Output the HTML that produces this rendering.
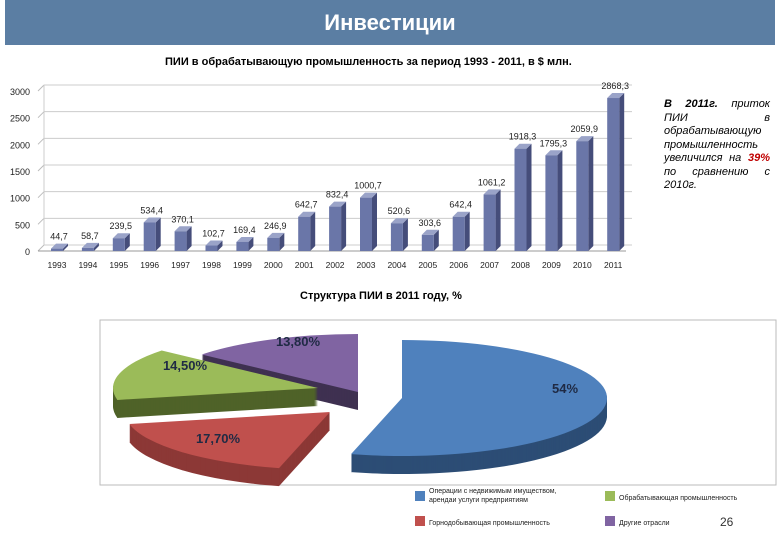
<!DOCTYPE html>
<html><head><meta charset="utf-8"><style>
body{margin:0;width:780px;height:540px;background:#fff;font-family:"Liberation Sans",sans-serif;overflow:hidden;position:relative}
#hdr{position:absolute;left:5px;top:0;width:770px;height:45px;background:#5b7ea3;color:#fff;font-weight:bold;font-size:22px;text-align:center;line-height:45px}
.t{position:absolute;font-size:11px;font-weight:bold;color:#000}
#note{position:absolute;left:664px;top:98px;width:106px;font-size:11px;font-style:italic;text-align:justify;line-height:13.5px}
</style></head><body>
<div id="hdr">Инвестиции</div>
<div class="t" style="left:165px;top:56px">ПИИ в обрабатывающую промышленность за период 1993 - 2011, в $ млн.</div>
<div id="note"><b>В 2011г.</b> приток ПИИ в обрабатывающую промышленность увеличился на <b style="color:#c00000">39%</b> по сравнению с 2010г.</div>
<div class="t" style="left:300px;top:290px">Структура ПИИ в 2011 году, %</div>
<svg id="svg" width="780" height="540" style="position:absolute;left:0;top:0"></svg>
<script>
const years=["1993","1994","1995","1996","1997","1998","1999","2000","2001","2002","2003","2004","2005","2006","2007","2008","2009","2010","2011"];
const values=[44.7,58.7,239.5,534.4,370.1,102.7,169.4,246.9,642.7,832.4,1000.7,520.6,303.6,642.4,1061.2,1918.3,1795.3,2059.9,2868.3];
const valueLabels=["44,7","58,7","239,5","534,4","370,1","102,7","169,4","246,9","642,7","832,4","1000,7","520,6","303,6","642,4","1061,2","1918,3","1795,3","2059,9","2868,3"];
const yTicks=[0,500,1000,1500,2000,2500,3000];
const pieLabels=["54%","17,70%","14,50%","13,80%"];
const pieValues=[54,17.7,14.5,13.8];
const legendLabels=["Операции с недвижимым имуществом, арендаи услуги предприятиям","Горнодобывающая промышленность","Обрабатывающая промышленность","Другие отрасли"];

const NS="http://www.w3.org/2000/svg",svg=document.getElementById('svg');
function mk(t,a,p){const e=document.createElementNS(NS,t);for(const k in a)e.setAttribute(k,a[k]);(p||svg).appendChild(e);return e;}
const y=v=>251-v*(160/3000), x=i=>57+i*30.9;
yTicks.forEach(v=>{
 const g=mk('line',{x1:38,y1:y(v),x2:44,y2:y(v)-6,stroke:'#bbb'});
 const l=mk('line',{x1:44,y1:y(v)-6,x2:632,y2:y(v)-6,stroke:'#ccc'});
 const t=mk('text',{x:30,y:y(v)+4,'text-anchor':'end','font-size':9,fill:'#222'});t.textContent=v;
});
mk('line',{x1:38,y1:251,x2:626,y2:251,stroke:'#999'});
mk('line',{x1:44,y1:y(3000)-6,x2:44,y2:245,stroke:'#ccc'});
values.forEach((v,i)=>{
 const cx=x(i),w=12,d=5,top=y(v),bx=cx-w/2;
 const s=mk('polygon',{points:`${bx+w},${top} ${bx+w+d},${top-d} ${bx+w+d},${251-d} ${bx+w},251`,fill:'#454d7a'});
 const tp=mk('polygon',{points:`${bx},${top} ${bx+d},${top-d} ${bx+w+d},${top-d} ${bx+w},${top}`,fill:'#9aa3c8'});
 const r=mk('rect',{x:bx,y:top,width:w,height:251-top,fill:'#6a76a8'});
 const lb=mk('text',{x:cx+2,y:top-9,'text-anchor':'middle','font-size':9,fill:'#222'});lb.textContent=valueLabels[i];
 const yl=mk('text',{x:cx,y:268,'text-anchor':'middle','font-size':8.5,fill:'#222'});yl.textContent=years[i];
});
const bx=mk('rect',{x:100,y:320,width:676,height:165,fill:'none',stroke:'#bbb'});
const centers=[[402,398],[330,412],[318,388],[358,392]];
const topC=['#4f81bd','#c0504d','#9bbb59','#8064a2'],sideC=['#2c4d75','#8c3836','#4f6228','#3f3151'];
const rx=205,ry=58,D=18;
function slice(cx,cy,a0,a1){const r=Math.PI/180,p0=[cx+rx*Math.cos(a0*r),cy+ry*Math.sin(a0*r)],p1=[cx+rx*Math.cos(a1*r),cy+ry*Math.sin(a1*r)];
 return `M${cx},${cy}L${p0[0]},${p0[1]}A${rx},${ry} 0 ${a1-a0>180?1:0} 1 ${p1[0]},${p1[1]}Z`;}
const tot=pieValues.reduce((a,b)=>a+b,0);let angs=[],a=-90;
pieValues.forEach(v=>{const b=a+v/tot*360;angs.push([a,b]);a=b;});
[3,2,1,0].forEach(i=>{const [cx,cy]=centers[i];
 for(let k=D;k>0;k--){const p=mk('path',{d:slice(cx,cy+k,angs[i][0],angs[i][1]),fill:sideC[i]});}
 const p=mk('path',{d:slice(cx,cy,angs[i][0],angs[i][1]),fill:topC[i]});
});
const lp=[[565,393],[218,443],[185,370],[298,346]];
pieLabels.forEach((t,i)=>{const e=mk('text',{x:lp[i][0],y:lp[i][1],'text-anchor':'middle','font-size':13,'font-weight':'bold',fill:'#1f2a44'});e.textContent=t;});
const lpos=[[415,497],[415,522],[605,497],[605,522]];
legendLabels.forEach((t,i)=>{const [lx,ly]=lpos[i];
 const s=mk('rect',{x:lx,y:ly-6,width:10,height:10,fill:topC[i]});
 if(i==0){[["Операции с недвижимым имуществом,",-4],["арендаи услуги предприятиям",5]].forEach(([s2,dy])=>{const e=mk('text',{x:lx+14,y:ly+dy,'font-size':7,fill:'#222'});e.textContent=s2;});}
 else{const e=mk('text',{x:lx+14,y:ly+3,'font-size':7,fill:'#222'});e.textContent=t;}
});
const pn=mk('text',{x:720,y:526,'font-size':12,fill:'#333'});pn.textContent="26";
</script>
</body></html>
